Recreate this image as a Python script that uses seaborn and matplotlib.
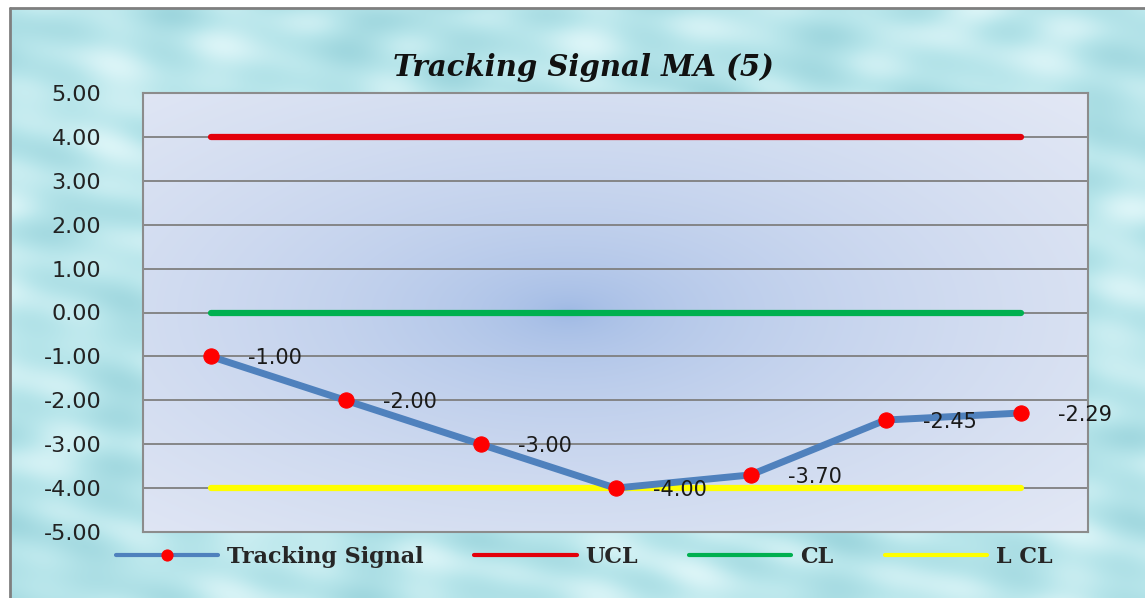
import numpy as np
import pandas as pd
import matplotlib
matplotlib.use("Agg")
import matplotlib.pyplot as plt
import seaborn as sns

# ---- data ----
periods = ["1", "2", "3", "4", "5", "6", "7"]
tracking_signal = [-1.00, -2.00, -3.00, -4.00, -3.70, -2.45, -2.29]
ucl = [4.0] * 7
cl = [0.0] * 7
lcl = [-4.0] * 7
y_ticks = [5, 4, 3, 2, 1, 0, -1, -2, -3, -4, -5]
title = "Tracking Signal MA (5)"

sns.set_theme(style="white")
plt.rcParams['font.family'] = ['DejaVu Sans']

W, H = 1145, 598
fig = plt.figure(figsize=(W / 100, H / 100), dpi=100)
fig.patch.set_facecolor("white")

# ---- watery background ----
bg = fig.add_axes([10 / W, 0, 1 - 10 / W, 1 - 8 / H], zorder=-5)
yy, xx = np.mgrid[0:1:300j, 0:1:600j]
tex = (np.sin(xx * 31 + np.sin(yy * 17) * 2.0) * np.cos(yy * 23 + np.cos(xx * 13) * 1.7)
       + 0.6 * np.sin(xx * 57 - yy * 41) * np.cos(xx * 19 + yy * 47))
tex = (tex - tex.min()) / (tex.max() - tex.min())
base = np.array([0.72, 0.90, 0.92])
light = np.array([0.86, 0.96, 0.97])
dark = np.array([0.62, 0.84, 0.87])
t = tex[..., None]
img = np.where(t > 0.5, base + (light - base) * (t - 0.5) * 2, dark + (base - dark) * t * 2)
bg.imshow(img, aspect="auto", extent=[0, 1, 0, 1], interpolation="bicubic")
bg.set_axis_off()
fig.add_artist(plt.Line2D([10 / W, 10 / W], [0, 1 - 8 / H], color="#7f7f7f", lw=2))
fig.add_artist(plt.Line2D([10 / W, 1], [1 - 8 / H, 1 - 8 / H], color="#7f7f7f", lw=2))

# ---- plot area ----
left, right, top, bottom = 143, 1088, 93, 532
ax = fig.add_axes([left / W, 1 - bottom / H, (right - left) / W, (bottom - top) / H])

gy, gx = np.mgrid[0:1:200j, 0:1:400j]
d = np.sqrt(((gx - 0.45) / 0.75) ** 2 + ((gy - 0.5) / 0.75) ** 2)
d = np.clip(d, 0, 1)[..., None]
c_center = np.array([0.60, 0.71, 0.89])
c_edge = np.array([0.89, 0.91, 0.96])
grad = c_center + (c_edge - c_center) * np.sqrt(d)
ax.imshow(grad, aspect="auto", extent=[-0.5, 6.5, -5, 5], zorder=0, interpolation="bilinear")

df = pd.DataFrame({"period": periods, "Tracking Signal": tracking_signal,
                   "UCL": ucl, "CL": cl, "LCL": lcl})

sns.lineplot(data=df, x="period", y="UCL", ax=ax, color="#e3000b", lw=4.5,
             label="UCL", zorder=3, sort=False)
sns.lineplot(data=df, x="period", y="CL", ax=ax, color="#00b050", lw=4.5,
             label="CL", zorder=3, sort=False)
sns.lineplot(data=df, x="period", y="LCL", ax=ax, color="#ffff00", lw=4.5,
             label="L CL", zorder=3, sort=False)
sns.lineplot(data=df, x="period", y="Tracking Signal", ax=ax, color="#4f81bd", lw=5,
             marker="o", markersize=11, markerfacecolor="#ff0000", markeredgecolor="#ff0000",
             label="Tracking Signal", zorder=4, sort=False)

for i, v in enumerate(tracking_signal):
    ax.annotate(f"{v:.2f}", (i, v), xytext=(27, -1.5), textcoords="offset points",
                ha="left", va="center", fontsize=15, color="#1a1a1a", zorder=5)

ax.set_xlim(-0.5, 6.5)
ax.set_ylim(-5, 5)
ax.set_yticks(y_ticks)
ax.set_yticklabels([f"{v:.2f}" for v in y_ticks], fontsize=16, color="#222222")
ax.tick_params(axis="y", length=0, pad=30)
ax.set_xticks([])
ax.set_xlabel("")
ax.set_ylabel("")
for yv in y_ticks:
    ax.axhline(yv, color="#7f7f7f", lw=1.3, zorder=1)
for s in ax.spines.values():
    s.set_color("#8c8c8c")
    s.set_linewidth(1.5)

ax.get_legend().remove()
handles, labels = ax.get_legend_handles_labels()
order = [labels.index(n) for n in ["Tracking Signal", "UCL", "CL", "L CL"]]
leg = fig.legend([handles[i] for i in order], [labels[i] for i in order],
                 loc="center", bbox_to_anchor=(0.51, 1 - 557 / H), ncol=4, frameon=False,
                 handlelength=4.6, columnspacing=2.3, handletextpad=0.4,
                 prop={"family": "DejaVu Serif", "weight": "bold", "size": 16})
for ln in leg.get_lines():
    ln.set_linewidth(3)
    ln.set_markersize(8)

fig.text(583 / W, 1 - 67 / H, title, ha="center", va="center",
         fontsize=21, fontweight="bold", fontstyle="italic", family="DejaVu Serif",
         color="#111111")

fig.savefig("out.png", dpi=100)
